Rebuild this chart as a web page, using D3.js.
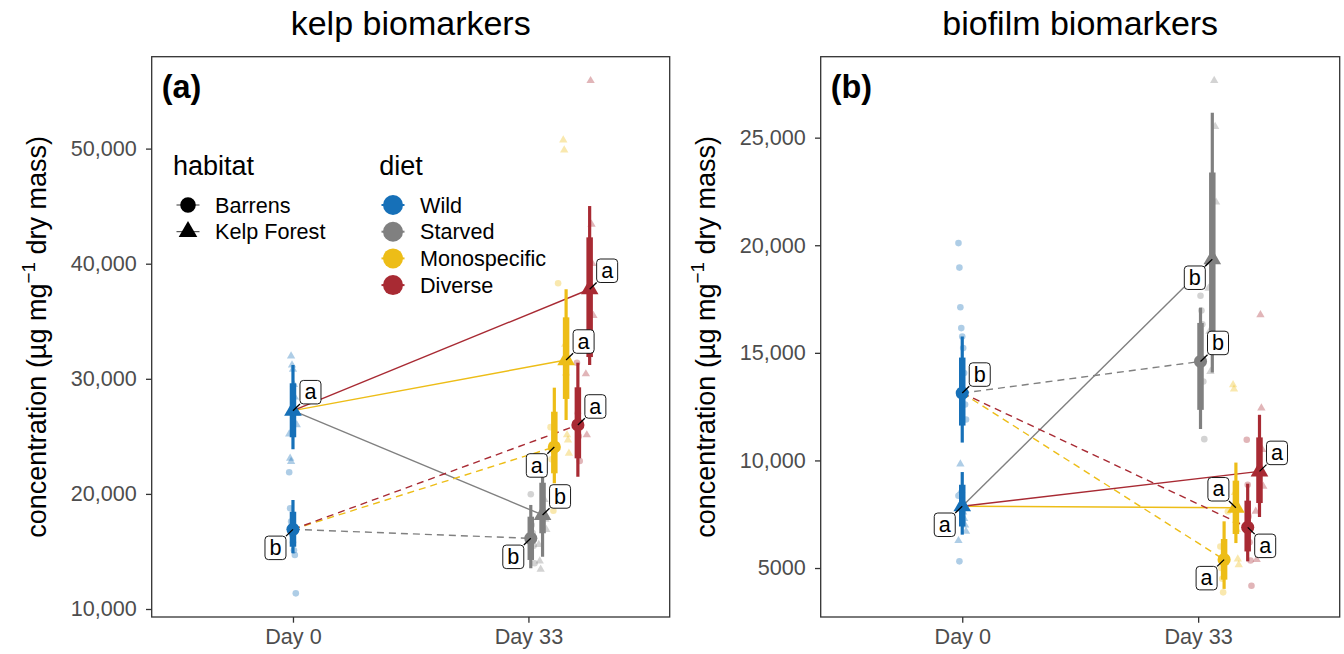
<!DOCTYPE html>
<html><head><meta charset="utf-8">
<script src="https://cdn.jsdelivr.net/npm/d3@7"></script>
<style>
body{margin:0;background:#fff}
svg{display:block}
text{font-family:"Liberation Sans",Arial,Helvetica,sans-serif}
</style>
</head><body>
<svg id="chart" width="1344" height="654"></svg>
<script>
// ---------- data ----------
const days = ["Day 0", "Day 33"];
const diets = ["Wild", "Starved", "Monospecific", "Diverse"];
const habitats = ["Barrens", "Kelp Forest"];

const groupDay = ["Day 0", "Day 0", "Day 33", "Day 33", "Day 33", "Day 33", "Day 33", "Day 33"];
const groupDiet = ["Wild", "Wild", "Starved", "Starved", "Monospecific", "Monospecific", "Diverse", "Diverse"];
const groupHabitat = ["Barrens", "Kelp Forest", "Barrens", "Kelp Forest", "Barrens", "Kelp Forest", "Barrens", "Kelp Forest"];

// (a) kelp biomarkers
const kelpMedian = [16920, 27230, 16140, 18170, 24080, 31630, 25990, 37780];
const kelpLo95   = [14840, 23880, 13540, 14540, 20920, 26420, 21490, 31200];
const kelpHi95   = [19470, 31200, 19040, 21790, 29230, 37780, 31400, 45010];
const kelpLo66   = [15410, 24920, 14260, 16580, 21790, 28250, 23090, 31890];
const kelpHi66   = [18450, 29610, 18020, 20970, 27140, 35340, 29260, 42290];
const kelpLetter = ["b", "a", "b", "b", "a", "a", "a", "a"];
const kelpLabelSide = ["SW", "NE", "SW", "NE", "SW", "NE", "NE", "NE"];
const kelpRaw = [
  [21880, 18750, 17600, 16500, 15800, 15100, 14690, 11360],
  [31980, 31200, 30830, 29500, 28400, 27000, 26000, 25200, 23090, 22800],
  [19970, 17300, 16600, 15500, 13970],
  [19500, 17800, 16900, 15600, 14170, 13450],
  [38300, 25800, 23000, 20400, 18540],
  [50750, 49880, 33000, 30500, 25120, 24680, 23530],
  [31400, 27000, 25000, 22860],
  [55900, 43420, 40000, 35500, 30420, 25120]
];
const kelpTicks = [10000, 20000, 30000, 40000, 50000];
const kelpTickLabels = ["10,000", "20,000", "30,000", "40,000", "50,000"];

// (b) biofilm biomarkers
const bioMedian = [13130, 7870, 14600, 19350, 5390, 7800, 6890, 9490];
const bioLo95   = [10830, 6550, 11460, 14090, 4030, 6160, 5310, 7370];
const bioHi95   = [15760, 9460, 17100, 26160, 7170, 9900, 8920, 12120];
const bioLo66   = [11620, 6930, 12350, 15370, 4460, 6580, 5770, 8020];
const bioHi66   = [14780, 8870, 16390, 23380, 6350, 9060, 8130, 11070];
const bioLetter = ["b", "a", "b", "b", "a", "a", "a", "a"];
const bioLabelSide = ["NE", "SW", "NE", "SW", "SW", "NW", "SE", "NE"];
const bioRaw = [
  [20100, 18960, 17120, 16150, 15760, 15220, 14060, 12600, 11900, 8360, 5310],
  [9830, 8600, 8100, 7600, 7300, 7000, 6700, 6270],
  [17650, 16970, 16330, 13670, 10990],
  [27650, 25510, 22000, 18000, 16000, 14130],
  [7630, 6000, 5000, 4500, 3870],
  [13510, 13310, 8500, 7200, 6780, 5420, 5150],
  [10960, 8870, 7400, 6200, 5350, 4180],
  [16770, 12430, 10500, 8800, 7630, 5390]
];
const bioTicks = [5000, 10000, 15000, 20000, 25000];
const bioTickLabels = ["5000", "10,000", "15,000", "20,000", "25,000"];

// ---------- style ----------
const dietColor = {Wild: "#1670b8", Starved: "#808080", Monospecific: "#edbd17", Diverse: "#a82a33"};
const FONT_BASE = 27;
const svg = d3.select("#chart");

const panels = [
  {title: "kelp biomarkers", tag: "(a)", left: 151.7, right: 669.7, domain: [9305, 57985],
   median: kelpMedian, lo95: kelpLo95, hi95: kelpHi95, lo66: kelpLo66, hi66: kelpHi66,
   letter: kelpLetter, side: kelpLabelSide, raw: kelpRaw, ticks: kelpTicks, tickLabels: kelpTickLabels, legend: true},
  {title: "biofilm biomarkers", tag: "(b)", left: 820.7, right: 1339.7, domain: [2724, 28762],
   median: bioMedian, lo95: bioLo95, hi95: bioHi95, lo66: bioLo66, hi66: bioHi66,
   letter: bioLetter, side: bioLabelSide, raw: bioRaw, ticks: bioTicks, tickLabels: bioTickLabels, legend: false}
];
const TOP = 56.7, BOTTOM = 617;

const dodgeKeys = ["Starved|Barrens", "Starved|Kelp Forest", "Monospecific|Barrens",
                   "Monospecific|Kelp Forest", "Diverse|Barrens", "Diverse|Kelp Forest"];

function shapePath(habitat, size) {
  return d3.symbol().type(habitat === "Barrens" ? d3.symbolCircle : d3.symbolTriangle).size(size)();
}

panels.forEach(p => {
  const g = svg.append("g");
  const x = d3.scaleLinear().domain([0.4, 2.6]).range([p.left, p.right]);
  const y = d3.scaleLinear().domain(p.domain).range([BOTTOM, TOP]);
  const dodge = d3.scalePoint().domain(dodgeKeys).range([0.01, 0.26]);
  const xPos = i => groupDay[i] === "Day 0" ? days.indexOf("Day 0") + 1
                  : days.indexOf("Day 33") + 1 + dodge(groupDiet[i] + "|" + groupHabitat[i]);
  const idx = d3.range(groupDay.length);

  // raw observations
  idx.forEach(i => {
    p.raw[i].forEach((v, j) => {
      const jit = (((j * 37 + i * 11) % 9) - 4) * 0.004;
      g.append("path")
        .attr("d", shapePath(groupHabitat[i], groupHabitat[i] === "Barrens" ? 34 : 30))
        .attr("transform", `translate(${x(xPos(i) + jit)},${y(v)})`)
        .attr("fill", dietColor[groupDiet[i]])
        .attr("fill-opacity", 0.35);
    });
  });

  // connecting lines Day 0 -> Day 33
  idx.filter(i => groupDay[i] === "Day 33").forEach(i => {
    const w = idx.find(k => groupDay[k] === "Day 0" && groupHabitat[k] === groupHabitat[i]);
    g.append("line")
      .attr("x1", x(xPos(w))).attr("y1", y(p.median[w]))
      .attr("x2", x(xPos(i))).attr("y2", y(p.median[i]))
      .attr("stroke", dietColor[groupDiet[i]])
      .attr("stroke-width", 1.4)
      .attr("stroke-dasharray", groupHabitat[i] === "Barrens" ? "7,5" : null);
  });

  // intervals
  idx.forEach(i => {
    const cx = x(xPos(i));
    g.append("line").attr("x1", cx).attr("x2", cx)
      .attr("y1", y(p.lo95[i])).attr("y2", y(p.hi95[i]))
      .attr("stroke", dietColor[groupDiet[i]]).attr("stroke-width", 3.2);
    g.append("line").attr("x1", cx).attr("x2", cx)
      .attr("y1", y(p.lo66[i])).attr("y2", y(p.hi66[i]))
      .attr("stroke", dietColor[groupDiet[i]]).attr("stroke-width", 6.5);
  });

  // medians
  idx.forEach(i => {
    g.append("path")
      .attr("d", shapePath(groupHabitat[i], 135))
      .attr("transform", `translate(${x(xPos(i))},${y(p.median[i])})`)
      .attr("fill", dietColor[groupDiet[i]]);
  });

  // letter labels
  const BW = 21, BH = 23.5;
  idx.forEach(i => {
    const px = x(xPos(i)), py = y(p.median[i]);
    const s = p.side[i];
    const sx = s.includes("E") ? 1 : -1;
    const sy = s.includes("S") ? 1 : -1;
    const cx = px + sx * 17.5, cy = py + sy * 18.5;
    g.append("line")
      .attr("x1", px).attr("y1", py)
      .attr("x2", cx - sx * BW / 2).attr("y2", cy - sy * BH / 2)
      .attr("stroke", "#000").attr("stroke-width", 1.3);
    g.append("rect")
      .attr("x", cx - BW / 2).attr("y", cy - BH / 2)
      .attr("width", BW).attr("height", BH).attr("rx", 3.5)
      .attr("fill", "#fff").attr("stroke", "#000").attr("stroke-width", 0.9);
    g.append("text").attr("x", cx).attr("y", cy).attr("dy", "0.33em")
      .attr("text-anchor", "middle").attr("font-size", 21.6).attr("fill", "#000")
      .text(p.letter[i]);
  });

  // frame
  g.append("rect").attr("x", p.left).attr("y", TOP)
    .attr("width", p.right - p.left).attr("height", BOTTOM - TOP)
    .attr("fill", "none").attr("stroke", "#333").attr("stroke-width", 1.3);

  // axes
  const ya = g.append("g").attr("transform", `translate(${p.left},0)`)
    .call(d3.axisLeft(y).tickValues(p.ticks).tickFormat((d, k) => p.tickLabels[k])
      .tickSize(5.7).tickPadding(9.3));
  const xa = g.append("g").attr("transform", `translate(0,${BOTTOM})`)
    .call(d3.axisBottom(x).tickValues([1, 2]).tickFormat((d, k) => days[k])
      .tickSize(5.7).tickPadding(6));
  [ya, xa].forEach(a => {
    a.select(".domain").remove();
    a.selectAll(".tick line").attr("stroke", "#333").attr("stroke-width", 1.3);
    a.selectAll(".tick text").attr("font-size", 21.6).attr("fill", "#4d4d4d")
      .attr("font-family", '"Liberation Sans",Arial,Helvetica,sans-serif');
  });

  // titles
  g.append("text").attr("x", (p.left + p.right) / 2).attr("y", 35)
    .attr("text-anchor", "middle").attr("font-size", 34).attr("fill", "#000")
    .text(p.title);
  g.append("text").attr("x", p.left + 10).attr("y", 98)
    .attr("font-size", FONT_BASE * 1.2).attr("font-weight", "bold").attr("fill", "#000")
    .text(p.tag);
  const yt = g.append("text")
    .attr("transform", `translate(${p.left - 106},${(TOP + BOTTOM) / 2}) rotate(-90)`)
    .attr("text-anchor", "middle").attr("font-size", FONT_BASE).attr("fill", "#000");
  yt.append("tspan").text("concentration (µg mg");
  yt.append("tspan").attr("font-size", FONT_BASE * 0.7).attr("dy", "-0.55em").text("−1");
  yt.append("tspan").attr("dy", "0.385em").text(" dry mass)");

  // legend
  if (p.legend) {
    const L = g.append("g");
    L.append("text").attr("x", 173).attr("y", 175).attr("font-size", FONT_BASE).text("habitat");
    habitats.forEach((h, k) => {
      const cy = 205 + k * 26.7;
      L.append("line").attr("x1", 176.5).attr("x2", 199.5).attr("y1", cy).attr("y2", cy)
        .attr("stroke", "#000").attr("stroke-width", 0.8);
      L.append("path").attr("d", shapePath(h, h === "Barrens" ? 190 : 150))
        .attr("transform", `translate(188,${cy})`).attr("fill", "#000");
      L.append("text").attr("x", 215).attr("y", cy).attr("dy", "0.36em")
        .attr("font-size", 21.6).text(h);
    });
    L.append("text").attr("x", 379.3).attr("y", 175).attr("font-size", FONT_BASE).text("diet");
    diets.forEach((d, k) => {
      const cy = 205 + k * 26.7;
      L.append("line").attr("x1", 381.5).attr("x2", 404.5).attr("y1", cy).attr("y2", cy)
        .attr("stroke", dietColor[d]).attr("stroke-width", 2);
      L.append("circle").attr("cx", 393).attr("cy", cy).attr("r", 10).attr("fill", dietColor[d]);
      L.append("text").attr("x", 420).attr("y", cy).attr("dy", "0.36em")
        .attr("font-size", 21.6).text(d);
    });
  }
});
</script>
</body></html>
